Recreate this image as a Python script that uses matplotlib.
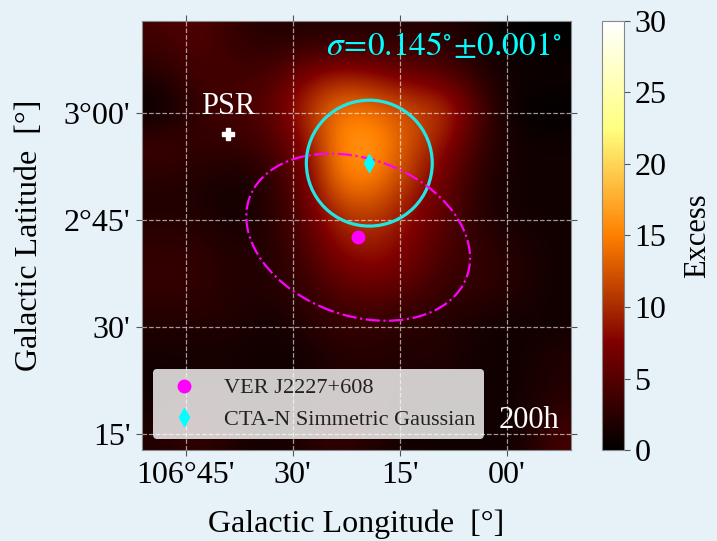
import numpy as np
import matplotlib
matplotlib.use("Agg")
import matplotlib.pyplot as plt
from matplotlib.patches import Circle, Ellipse
from matplotlib.ticker import FixedLocator, FixedFormatter

plt.rcParams['font.family'] = ['Liberation Serif', 'DejaVu Serif']
plt.rcParams['mathtext.fontset'] = 'stix'

# map extent (deg): galactic longitude decreases to the right
l_left, l_right = 106.853, 105.851
b_bottom, b_top = 2.213, 3.215

# coarse excess map, rows from top to bottom
excess_rows = [
    [4, 5, 3, 2, 2, 2, 2, 2, 2, 1, 0, 0],
    [2, 4, 4, 4, 7, 9, 8, 6, 5, 2, 1, 1],
    [0, 3, 4, 5, 10, 15, 14, 12, 11, 4, 0, 0],
    [4, 3, 3, 4, 7, 16, 17, 12, 8, 3, 1, 1],
    [2, 2, 1, 2, 6, 15, 15, 10, 6, 2, 1, 1],
    [2, 2, 1, 2, 5, 10, 11, 8, 5, 2, 1, 1],
    [3, 3, 2, 2, 4, 8, 9, 7, 4, 3, 2, 1],
    [3, 3, 2, 2, 3, 5, 6, 5, 3, 3, 2, 1],
    [2, 2, 2, 1, 2, 3, 3, 2, 2, 1, 1, 1],
    [1, 1, 1, 1, 1, 2, 2, 2, 2, 1, 1, 2],
    [1, 2, 2, 1, 1, 2, 2, 1, 1, 1, 1, 2],
    [2, 3, 2, 1, 2, 3, 2, 1, 1, 1, 1, 4],
]

# sources
psr_l, psr_b = 106.65, 2.951
ver_l, ver_b = 106.347, 2.710
ver_width, ver_height, ver_angle = 0.54, 0.366, 20
cta_l, cta_b = 106.321, 2.883
cta_sigma = 0.147

xtick_vals = [106.75, 106.5, 106.25, 106.0]
xtick_labels = ["106°45'", "30'", "15'", "00'"]
ytick_vals = [3.0, 2.75, 2.5, 2.25]
ytick_labels = ["3°00'", "2°45'", "30'", "15'"]

bg = '#e6f1f8'
fig = plt.figure(figsize=(7.17, 5.41), dpi=100, facecolor=bg)
ax = fig.add_axes([0.1967, 0.1682, 0.5997, 0.793])
cax = fig.add_axes([0.8396, 0.1682, 0.0307, 0.793])

img = ax.imshow(np.array(excess_rows, dtype=float), cmap='afmhot', vmin=0, vmax=30,
                extent=[l_left, l_right, b_bottom, b_top], origin='upper',
                interpolation='bicubic', aspect='equal')
ax.set_xlim(l_left, l_right)
ax.set_ylim(b_bottom, b_top)

ax.add_patch(Circle((cta_l, cta_b), cta_sigma, fill=False, ec='#22e5e5', lw=2.3, zorder=4))
ax.add_patch(Ellipse((ver_l, ver_b), ver_width, ver_height, angle=ver_angle, fill=False,
                     ec='magenta', lw=1.6, ls='-.', zorder=4))

ax.plot(psr_l, psr_b, marker='P', color='white', ms=9, mec='white', ls='none', zorder=5)
ax.text(psr_l, psr_b + 0.047, 'PSR', color='white', fontsize=22, ha='center',
        va='baseline', zorder=5)
ax.plot(ver_l, ver_b, 'o', color='magenta', ms=9, ls='none', label='VER J2227+608', zorder=5)
ax.plot(cta_l, cta_b, 'd', color='cyan', ms=9, ls='none', label='CTA-N Simmetric Gaussian', zorder=5)

ax.text(0.98, 0.975, r'$\sigma\!=\!0.145^{\circ}\!\pm\!0.001^{\circ}$', transform=ax.transAxes,
        color='cyan', fontsize=24, ha='right', va='top', zorder=6)
ax.text(0.975, 0.035, '200h', transform=ax.transAxes, color='white', fontsize=22,
        ha='right', va='bottom', zorder=6)

ax.xaxis.set_major_locator(FixedLocator(xtick_vals))
ax.xaxis.set_major_formatter(FixedFormatter(xtick_labels))
ax.yaxis.set_major_locator(FixedLocator(ytick_vals))
ax.yaxis.set_major_formatter(FixedFormatter(ytick_labels))
ax.tick_params(which='major', direction='out', length=4, color='#555555', labelsize=23,
               top=True, right=True, labeltop=False, labelright=False, pad=4)
ax.grid(True, color='white', ls='--', lw=0.9, alpha=0.6)
ax.set_xlabel('Galactic Longitude  [°]', fontsize=23, labelpad=14)
ax.set_ylabel('Galactic Latitude  [°]', fontsize=23, labelpad=14)
for s in ax.spines.values():
    s.set_color('#888888')

leg = ax.legend(loc='lower left', fontsize=16, framealpha=0.8, facecolor='white',
                edgecolor='none', fancybox=True)
leg.set_zorder(7)
for t in leg.get_texts():
    t.set_color('#222222')

cb = fig.colorbar(img, cax=cax)
cb.set_ticks([0, 5, 10, 15, 20, 25, 30])
cb.ax.tick_params(labelsize=23, length=4, color='#555555')
cb.set_label('Excess', fontsize=22, labelpad=12)
cb.outline.set_edgecolor('#888888')

fig.savefig('out.png', dpi=100, facecolor=bg)
